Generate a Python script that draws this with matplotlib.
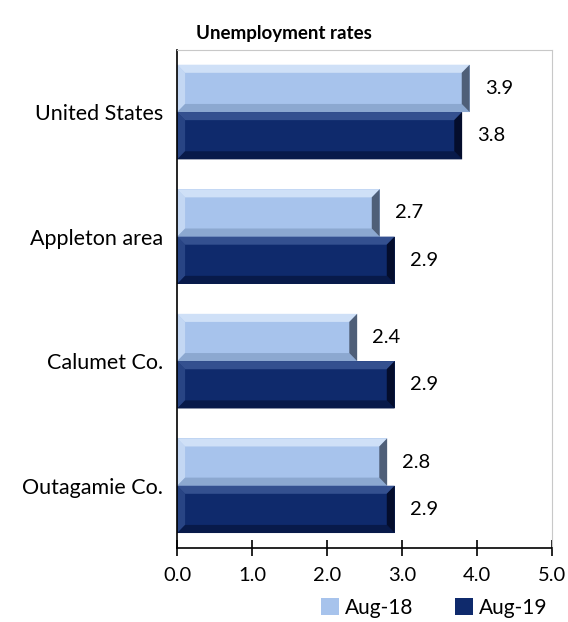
import numpy as np
import matplotlib
matplotlib.use("Agg")
from matplotlib import pyplot as plt
from matplotlib.patches import Polygon

plt.rcParams['font.family'] = ['Lato', 'DejaVu Sans']

# data
regions = ['United States', 'Appleton area', 'Calumet Co.', 'Outagamie Co.']
aug18 = [3.9, 2.7, 2.4, 2.8]
aug19 = [3.8, 2.9, 2.9, 2.9]
series_names = ['Aug-18', 'Aug-19']

# base, light bevel, dark bevel, edge
light = ['#a7c3ec', '#cfe0f7', '#8ca8d0', '#4f5f78']
dark = ['#0f2a6c', '#34508f', '#081a4a', '#040d2c']

fig = plt.figure(figsize=(5.68, 6.22), dpi=100)
ax = fig.add_axes([0.312, 0.119, 0.66, 0.801])

y = np.arange(len(regions))
h = 0.38
b18 = ax.barh(y - h/2, aug18, height=h, color=light[0], edgecolor='none', label=series_names[0])
b19 = ax.barh(y + h/2, aug19, height=h, color=dark[0], edgecolor='none', label=series_names[1])

ax.set_xlim(0, 5)
ax.set_ylim(len(regions) - 0.5, -0.5)

# bevel effect on each bar
bx = 0.105
by = 0.065
for bars, col in [(b18, light), (b19, dark)]:
    for p in bars:
        x0, y0 = p.get_x(), p.get_y()
        x1, y1 = x0 + p.get_width(), y0 + p.get_height()
        # y axis is inverted: y0 is the top visually
        top = [(x0, y0), (x1, y0), (x1 - bx, y0 + by), (x0 + bx, y0 + by)]
        bot = [(x0, y1), (x1, y1), (x1 - bx, y1 - by), (x0 + bx, y1 - by)]
        left = [(x0, y0), (x0 + bx, y0 + by), (x0 + bx, y1 - by), (x0, y1)]
        right = [(x1, y0), (x1 - bx, y0 + by), (x1 - bx, y1 - by), (x1, y1)]
        ax.add_patch(Polygon(top, closed=True, fc=col[1], ec='none'))
        ax.add_patch(Polygon(left, closed=True, fc=col[1], ec='none', alpha=0.7))
        ax.add_patch(Polygon(bot, closed=True, fc=col[2], ec='none'))
        ax.add_patch(Polygon(right, closed=True, fc=col[3], ec='none'))

for bars, vals in [(b18, aug18), (b19, aug19)]:
    for p, v in zip(bars, vals):
        ax.annotate('%.1f' % v, (p.get_width(), p.get_y() + p.get_height()/2),
                    xytext=(11, 0), textcoords='offset points', va='center', ha='left',
                    fontsize=14.5)

ax.set_yticks(y)
ax.set_yticklabels(regions, fontsize=15.5)
ax.tick_params(axis='y', length=0, pad=10)
ax.set_xticks(np.arange(0, 5.1, 1))
ax.set_xticklabels(['%.1f' % t for t in np.arange(0, 5.1, 1)], fontsize=14.5)
ax.tick_params(axis='x', direction='inout', length=12, width=1.2, pad=8)

for s in ['top', 'right']:
    ax.spines[s].set_color('#c8c8c8')
for s in ['left', 'bottom']:
    ax.spines[s].set_color('black')
    ax.spines[s].set_linewidth(1.2)

fig.text(0.5, 1 - 33/622, 'Unemployment rates', ha='center', va='center',
         fontsize=13.5, fontweight='bold')

fig.legend(handles=[b18, b19], labels=series_names, loc='center right',
           bbox_to_anchor=(547/568, 1 - 608/622), ncol=2, frameon=False,
           fontsize=15, handlelength=0.9, handleheight=0.9, handletextpad=0.25,
           columnspacing=2.0, borderaxespad=0, borderpad=0)

fig.savefig('out.png', dpi=100)
